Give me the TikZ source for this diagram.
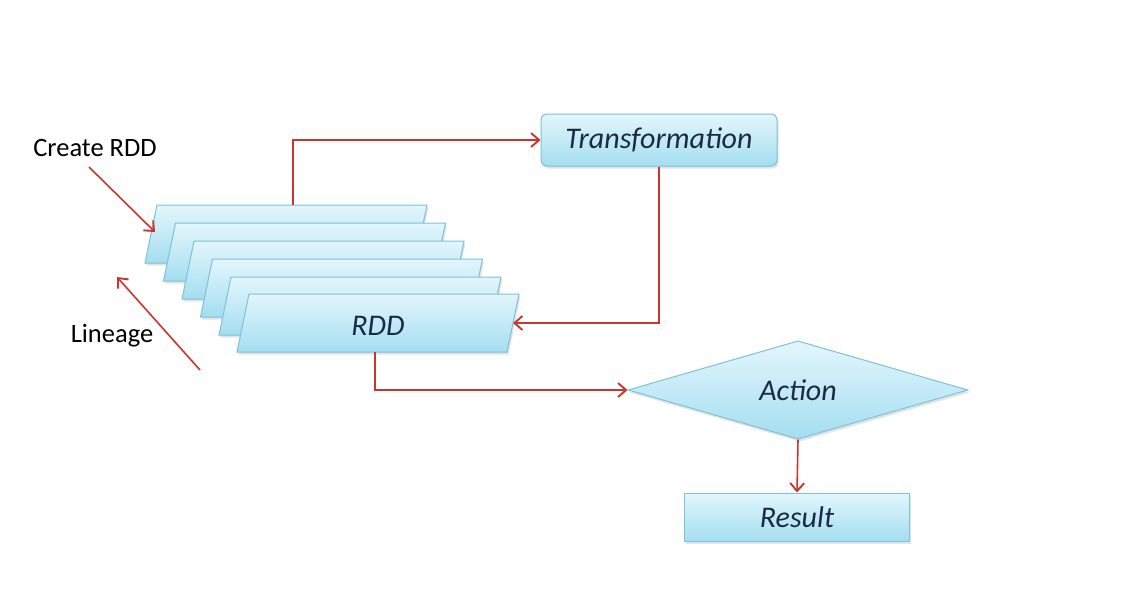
\documentclass[tikz,border=0pt]{standalone}
\usepackage{fontspec}
\setmainfont{Carlito}
\usetikzlibrary{shapes.geometric,arrows.meta,shadows,calc}
\definecolor{boxtop}{HTML}{E3F6FC}
\definecolor{boxbot}{HTML}{A4DEF0}
\definecolor{boxline}{HTML}{7DC1DA}
\definecolor{arrred}{HTML}{C8362E}
\definecolor{txtblue}{HTML}{1B2A46}
\tikzset{
  boxlook/.style={draw=boxline, line width=1pt, top color=boxtop, bottom color=boxbot,
    drop shadow={opacity=0.22, shadow xshift=1.5pt, shadow yshift=-2.5pt}},
  boxtext/.style={font=\itshape\fontsize{30}{34}\selectfont, text=txtblue, inner sep=0pt},
  box/.style={boxlook, boxtext},
  arr/.style={draw=arrred, line width=1.6pt, -{Straight Barb[length=8pt,width=14pt,line width=1.9pt]}},
  lbl/.style={font=\fontsize{26.5}{30}\selectfont, text=black, inner sep=0pt}
}
% parallelogram with top-left corner at (#2,#3)
\newcommand\rddpara[4]{%
  \path[boxlook] (#2,#3) -- ++(270,0) -- ++(-12,58) -- ++(-270,0) -- cycle;
  \coordinate (#1-n) at ($(#2,#3)+(136,0)$);
  \coordinate (#1-e) at ($(#2,#3)+(264,29)$);
  \coordinate (#1-s) at ($(#2,#3)+(126,58)$);
  \node[boxtext] (#1) at ($(#2,#3)+(129,32)$) {#4};
}
\begin{document}
\begin{tikzpicture}[x=1pt,y=-1pt]
\useasboundingbox[fill=white] (0,0) rectangle (1124,598);
% stacked RDD boxes
\rddpara{b1}{157}{205}{}
\rddpara{b2}{175.5}{223}{}
\rddpara{b3}{194}{241}{}
\rddpara{b4}{212.5}{259}{}
\rddpara{b5}{231}{277}{}
\rddpara{b6}{249}{294}{RDD}
% other nodes
\node[box, rounded corners=6pt, minimum width=236pt, minimum height=52pt] (trans) at (659,140) {Transformation};
\node[box, diamond, minimum width=340pt, minimum height=94pt] (act) at (798,390) {Action};
\node[box, minimum width=225pt, minimum height=48pt] (res) at (797,517) {Result};
% labels
\node[lbl] (create) at (95,148) {Create RDD};
\node[lbl] (lin) at (112,336) {Lineage};
\coordinate (cstart) at (89,167);
\coordinate (cend) at (155,232);
\coordinate (lstart) at (200,370);
\coordinate (lend) at (117,277);
% connectors
\draw[arr] (b1-n) |- (trans.west);
\draw[arr] (trans.south) |- (b6-e);
\draw[arr] (b6-s) |- (act.west);
\draw[arr] (act.south) -- (res.north);
\draw[arr] (cstart) -- (cend);
\draw[arr] (lstart) -- (lend);
\end{tikzpicture}
\end{document}
